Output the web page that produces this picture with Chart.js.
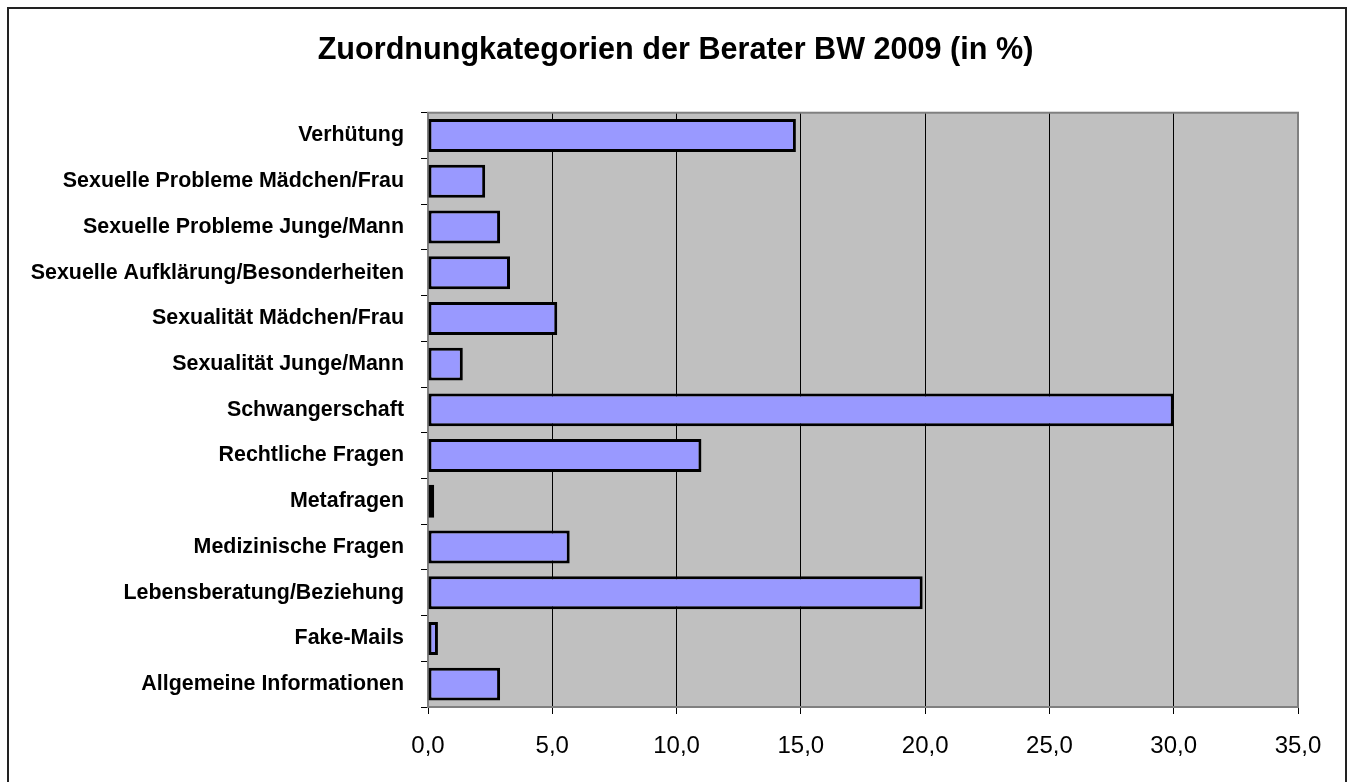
<!DOCTYPE html>
<html>
<head>
<meta charset="utf-8">
<script src="https://cdn.jsdelivr.net/npm/chart.js@4.4.0/dist/chart.umd.min.js"></script>
<style>
  html, body { margin: 0; padding: 0; background: #fff; }
</style>
</head>
<body>
<canvas id="beraterChart" width="1351" height="782"></canvas>
<script>
const categories = [
    'Verhütung',
    'Sexuelle Probleme Mädchen/Frau',
    'Sexuelle Probleme Junge/Mann',
    'Sexuelle Aufklärung/Besonderheiten',
    'Sexualität Mädchen/Frau',
    'Sexualität Junge/Mann',
    'Schwangerschaft',
    'Rechtliche Fragen',
    'Metafragen',
    'Medizinische Fragen',
    'Lebensberatung/Beziehung',
    'Fake-Mails',
    'Allgemeine Informationen'
];
const percentValues = [14.8, 2.3, 2.9, 3.3, 5.2, 1.4, 30.0, 11.0, 0.25, 5.7, 19.9, 0.4, 2.9];
const xTickLabels = ['0,0', '5,0', '10,0', '15,0', '20,0', '25,0', '30,0', '35,0'];

const FONT = "'Liberation Sans', Arial, sans-serif";

//grey plot area, outer frame and centered title
const plotFrame = {
    id: 'plotFrame',
    afterLayout(chart) {
        const t = chart.titleBlock;
        if (t) { t.left = 0; t.right = chart.width; t.width = chart.width; }
    },
    beforeDraw(chart) {
        const { ctx, chartArea: a } = chart;
        ctx.save();
        ctx.fillStyle = '#fff';
        ctx.fillRect(0, 0, chart.width, chart.height);
        ctx.strokeStyle = '#222';
        ctx.lineWidth = 2;
        ctx.strokeRect(8, 8, chart.width - 13, chart.height + 20);
        ctx.fillStyle = '#C0C0C0';
        ctx.fillRect(a.left, a.top, a.right - a.left, a.bottom - a.top);
        ctx.restore();
    },
    beforeDatasetsDraw(chart) {
        const { ctx, chartArea: a } = chart;
        ctx.save();
        ctx.strokeStyle = '#808080';
        ctx.lineWidth = 2;
        ctx.strokeRect(a.left, a.top, a.right - a.left, a.bottom - a.top);
        ctx.restore();
    }
};

const ctx = document.getElementById('beraterChart').getContext('2d');
new Chart(ctx, {
    type: 'bar',
    data: {
        labels: categories,
        datasets: [{
            label: 'Berater BW 2009',
            data: percentValues,
            backgroundColor: '#9999FF',
            borderColor: '#000',
            borderWidth: 3,
            borderSkipped: false,
            categoryPercentage: 1,
            barPercentage: 0.72
        }]
    },
    options: {
        indexAxis: 'y',
        responsive: false,
        animation: false,
        layout: { padding: { left: 0, right: 53, top: 0, bottom: 0 } },
        plugins: {
            legend: { display: false },
            tooltip: { enabled: false },
            title: {
                display: true,
                text: 'Zuordnungkategorien der Berater BW 2009 (in %)',
                color: '#000',
                font: { family: FONT, size: 30.6, weight: 'bold' },
                padding: { top: 32, bottom: 44 }
            }
        },
        scales: {
            x: {
                min: 0,
                max: 35,
                afterFit(scale) { scale.height = 75; },
                afterBuildTicks(scale) {
                    scale.ticks = xTickLabels.map((l, i) => ({ value: i * 5 }));
                },
                ticks: {
                    color: '#000',
                    padding: 18,
                    font: { family: FONT, size: 24 },
                    callback: (v, i) => xTickLabels[i]
                },
                grid: {
                    color: c => (c.tick && (c.tick.value === 0 || c.tick.value === 35)) ? 'rgba(0,0,0,0)' : '#000',
                    lineWidth: 1,
                    tickColor: '#000',
                    tickLength: 7
                },
                border: { display: false }
            },
            y: {
                afterFit(scale) { scale.width = 428; },
                ticks: {
                    color: '#000',
                    padding: 17,
                    font: { family: FONT, size: 21.4, weight: 'bold' }
                },
                grid: {
                    drawOnChartArea: false,
                    tickColor: '#000',
                    tickLength: 7,
                    lineWidth: 1
                },
                border: { display: false }
            }
        }
    },
    plugins: [plotFrame]
});
</script>
</body>
</html>
